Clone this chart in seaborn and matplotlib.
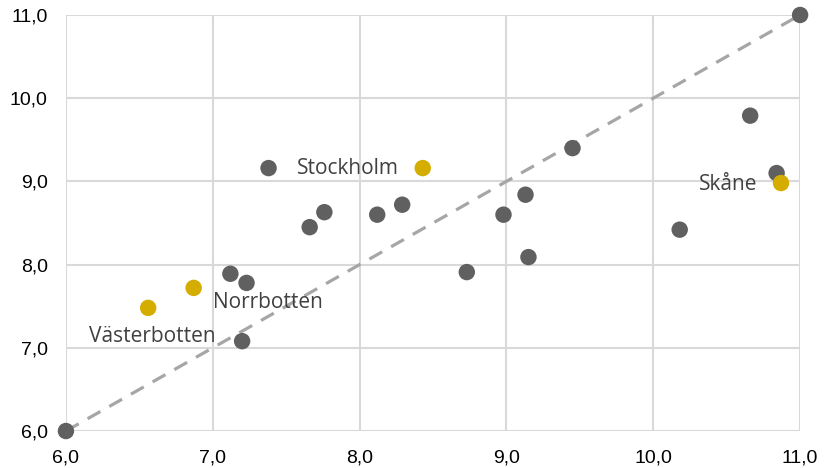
import matplotlib
matplotlib.use("Agg")
import matplotlib.pyplot as plt
import seaborn as sns
import pandas as pd

# County values (x, y); highlighted counties drawn in gold
grey_x = [6.00, 7.38, 7.12, 7.23, 7.20, 7.66, 7.76, 8.12, 8.29, 8.73, 8.98, 9.13, 9.15, 9.45, 10.18, 10.66, 10.84, 11.00]
grey_y = [6.00, 9.16, 7.89, 7.78, 7.08, 8.45, 8.63, 8.60, 8.72, 7.91, 8.60, 8.84, 8.09, 9.40, 8.42, 9.79, 9.10, 11.00]

gold_names = ["Västerbotten", "Norrbotten", "Stockholm", "Skåne"]
gold_x = [6.56, 6.87, 8.43, 10.87]
gold_y = [7.48, 7.72, 9.16, 8.98]

diag = [6.0, 11.0]
ticks = [6, 7, 8, 9, 10, 11]
tick_labels = ["6,0", "7,0", "8,0", "9,0", "10,0", "11,0"]

df = pd.DataFrame({
    "x": grey_x + gold_x,
    "y": grey_y + gold_y,
    "group": ["other"] * len(grey_x) + ["highlight"] * len(gold_x),
})

sns.set_style("white")
fig = plt.figure(figsize=(8.24, 4.68), dpi=100)
ax = fig.add_axes([0.080, 0.079, 0.891, 0.889])

ax.plot(diag, diag, color="#a6a6a6", lw=2.3, dashes=(4.6, 3.2), zorder=1)

sns.scatterplot(data=df, x="x", y="y", hue="group",
                palette={"other": "#606060", "highlight": "#d4ad00"},
                s=140, edgecolor="none", legend=False, ax=ax, zorder=3,
                clip_on=False)

ax.set_xlim(6, 11)
ax.set_ylim(6, 11)
ax.set_xticks(ticks)
ax.set_yticks(ticks)
ax.set_xticklabels(tick_labels)
ax.set_yticklabels(tick_labels)
ax.set_xlabel("")
ax.set_ylabel("")
ax.grid(True, color="#d9d9d9", lw=1.5)
ax.set_axisbelow(True)
for sp in ax.spines.values():
    sp.set_visible(False)
ax.tick_params(axis="both", length=0, labelsize=14, labelcolor="#000000")
ax.tick_params(axis="x", pad=13)
ax.tick_params(axis="y", pad=13)
for lbl in ax.get_xticklabels() + ax.get_yticklabels():
    lbl.set_fontfamily("Liberation Sans")

label_pos = {
    "Västerbotten": (7.02, 7.14, "right"),
    "Norrbotten": (7.0, 7.55, "left"),
    "Stockholm": (8.27, 9.15, "right"),
    "Skåne": (10.71, 8.96, "right"),
}
for name in gold_names:
    lx, ly, ha = label_pos[name]
    ax.text(lx, ly, name, ha=ha, va="center", fontsize=15,
            color="#404040", family="Open Sans")

fig.savefig("out.png", dpi=100)
